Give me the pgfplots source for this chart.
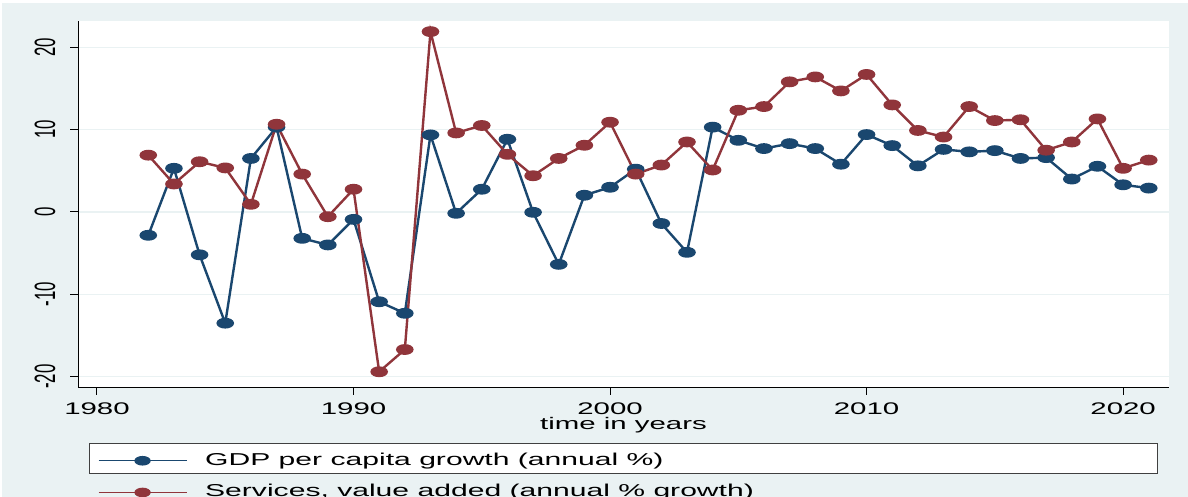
\documentclass[border=0pt]{standalone}
\usepackage{fontspec}
\setmainfont{Liberation Sans}[FakeStretch=1.75]
\newfontfamily\plainfont{Liberation Sans}
\usepackage{graphicx}
\usepackage{pgfplots}
\usepackage{pgfplotstable}
\pgfplotsset{compat=1.18}
\definecolor{sbg}{HTML}{EAF2F3}
\definecolor{snavy}{RGB}{26,71,111}
\definecolor{smaroon}{RGB}{144,53,59}
\pgfplotstableread{
year gdp serv
1982 -2.83 6.9
1983 5.3 3.4
1984 -5.2 6.1
1985 -13.5 5.35
1986 6.5 0.93
1987 10.3 10.65
1988 -3.2 4.6
1989 -4.0 -0.57
1990 -0.9 2.76
1991 -10.9 -19.4
1992 -12.3 -16.7
1993 9.36 21.9
1994 -0.16 9.6
1995 2.76 10.5
1996 8.83 7.0
1997 -0.04 4.4
1998 -6.36 6.5
1999 2.03 8.1
2000 3.0 10.9
2001 5.2 4.6
2002 -1.4 5.7
2003 -4.9 8.5
2004 10.3 5.1
2005 8.7 12.35
2006 7.7 12.8
2007 8.3 15.8
2008 7.7 16.4
2009 5.8 14.7
2010 9.4 16.7
2011 8.06 13.0
2012 5.6 9.9
2013 7.6 9.1
2014 7.3 12.8
2015 7.45 11.1
2016 6.5 11.2
2017 6.6 7.5
2018 4.0 8.5
2019 5.55 11.3
2020 3.3 5.3
2021 2.9 6.3
}\datatable
\newcommand{\ylab}[1]{\scalebox{1}[1.75]{\plainfont #1}}
\begin{document}
\begin{tikzpicture}
\path[use as bounding box] (0bp,0bp) rectangle (1188bp,497bp);
\fill[white] (0bp,0bp) rectangle (1188bp,497bp);
\fill[sbg] (2bp,0bp) rectangle (1188bp,494bp);
\filldraw[fill=white, draw=black!75, line width=1bp] (89bp,23bp) rectangle (1157bp,53bp);
\begin{axis}[
  at={(78bp,110bp)}, anchor=south west,
  width=1091bp, height=366bp, scale only axis,
  xmin=1979.26, xmax=2021.79, ymin=-21.25, ymax=23.19,
  axis x line*=bottom, axis y line*=left,
  axis line style={-, black, line width=1bp},
  axis background/.style={fill=white},
  xtick={1980,1990,2000,2010,2020},
  xticklabels={1980,1990,2000,2010,2020},
  ytick={-20,-10,0,10,20},
  yticklabels={\ylab{-20},\ylab{-10},\ylab{0},\ylab{10},\ylab{20}},
  tick align=outside, major tick length=8bp,
  tick style={black, line width=1bp},
  ymajorgrids, grid style={sbg, line width=1.3bp},
  ticklabel style={font=\fontsize{16.8bp}{20bp}\selectfont},
  xticklabel style={anchor=base, yshift=-19bp},
  yticklabel style={xshift=-15bp, rotate=90, anchor=base},
  xlabel={time in years},
  xlabel style={at={(axis description cs:0.5,0)}, anchor=base, yshift=-42bp, font=\fontsize{16.8bp}{20bp}\selectfont},
  legend style={at={(axis description cs:0.0183,-0.179)}, anchor=north west, draw=none, fill=none, inner sep=0pt, outer sep=0pt, row sep=15.2bp, column sep=18bp, font=\fontsize{17.2bp}{20bp}\selectfont, nodes={inner sep=0pt, text height=12.5bp, text depth=4bp}},
  legend cell align=left,
  legend image code/.code={\draw[#1, line width=1.2bp, mark repeat=2, mark phase=2] plot coordinates {(0bp,0bp) (44bp,0bp) (88bp,0bp)};},
  every axis plot/.append style={line width=2.4bp, mark=*, mark size=4.2bp},
]
\addplot[snavy, mark options={fill=snavy, xscale=1.8}] table[x=year, y=gdp] {\datatable};
\addlegendentry{GDP per capita growth (annual \%)}
\addplot[smaroon, mark options={fill=smaroon, xscale=1.8}] table[x=year, y=serv] {\datatable};
\addlegendentry{Services, value added (annual \% growth)}
\end{axis}
\end{tikzpicture}
\end{document}
